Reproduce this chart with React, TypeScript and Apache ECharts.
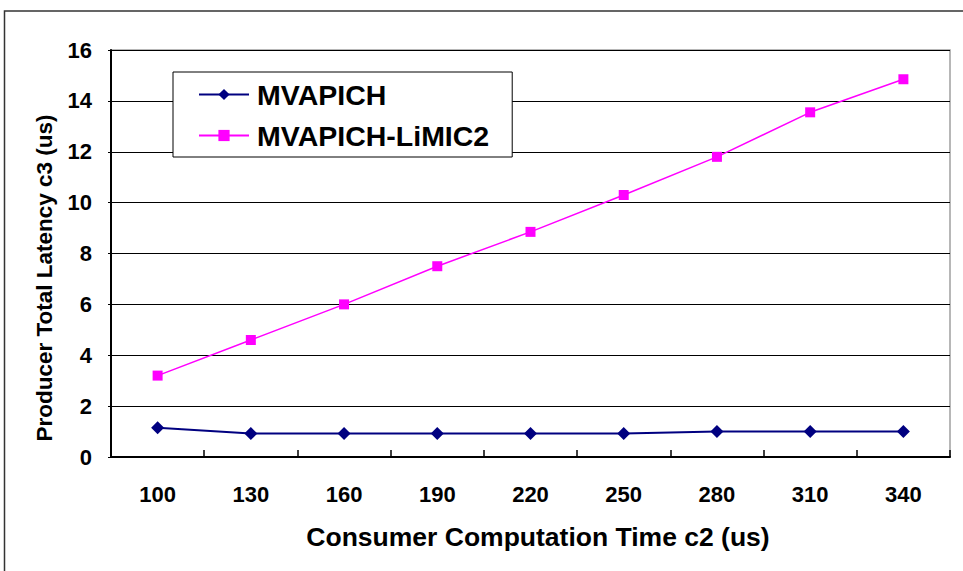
import React, { useEffect, useRef } from "react";
import * as echarts from "echarts";

const categories = ["100", "130", "160", "190", "220", "250", "280", "310", "340"];
const mvapich = [1.15, 0.92, 0.92, 0.92, 0.92, 0.92, 1.0, 1.0, 1.0];
const limic2 = [3.2, 4.6, 6.0, 7.5, 8.85, 10.3, 11.8, 13.55, 14.85];
const seriesNames = ["MVAPICH", "MVAPICH-LiMIC2"];
const xTitle = "Consumer Computation Time c2 (us)";
const yTitle = "Producer Total Latency c3 (us)";

const FONT = '"Liberation Sans", Arial, sans-serif';

export default function App() {
  const ref = useRef<HTMLDivElement>(null);
  useEffect(() => {
    if (!ref.current) return;
    const chart = echarts.init(ref.current, null, { renderer: "svg" });
    chart.setOption({
      animation: false,
      backgroundColor: "#ffffff",
      grid: {
        left: 111,
        top: 50,
        right: 13,
        bottom: 114,
        show: true,
        borderColor: "#a0a0a0",
        borderWidth: 1.5,
        backgroundColor: "transparent",
      },
      legend: {
        orient: "vertical",
        left: 173,
        top: 72,
        itemWidth: 50,
        itemHeight: 14,
        itemGap: 12,
        padding: [8, 23, 7, 25],
        z: 10,
        backgroundColor: "#ffffff",
        borderColor: "#000000",
        borderWidth: 1,
        textStyle: { fontFamily: FONT, fontWeight: "bold", fontSize: 28.5, color: "#000", padding: [0, 0, 0, 3] },
        data: seriesNames,
      },
      xAxis: {
        type: "category",
        data: categories,
        boundaryGap: true,
        name: xTitle,
        nameLocation: "middle",
        nameGap: 66,
        nameTextStyle: { fontFamily: FONT, fontWeight: "bold", fontSize: 26.5, color: "#000", padding: [0, 0, 0, 15] },
        axisLine: { lineStyle: { color: "#000", width: 2 } },
        axisTick: { show: true, inside: true, length: 7, lineStyle: { color: "#000", width: 1.5 } },
        axisLabel: { margin: 26, fontFamily: FONT, fontWeight: "bold", fontSize: 22, color: "#000" },
        splitLine: { show: false },
      },
      yAxis: {
        type: "value",
        min: 0,
        max: 16,
        interval: 2,
        axisLine: { show: true, lineStyle: { color: "#000", width: 2 } },
        axisTick: { show: true, length: 3, lineStyle: { color: "#000" } },
        axisLabel: { margin: 19, fontFamily: FONT, fontWeight: "bold", fontSize: 22, color: "#000" },
        splitLine: { show: true, lineStyle: { color: "#000", width: 1 } },
      },
      graphic: [
        {
          type: "rect",
          shape: { x: 4.5, y: 11, width: 1000, height: 1000 },
          style: { fill: "none", stroke: "#333", lineWidth: 1.5 },
          silent: true,
        },
        {
          type: "text",
          x: 44,
          y: 278,
          rotation: Math.PI / 2,
          style: {
            text: yTitle,
            fontFamily: FONT,
            fontWeight: "bold",
            fontSize: 22.5,
            fill: "#000",
            align: "center",
            verticalAlign: "middle",
          },
        },
      ],
      series: [
        {
          name: seriesNames[0],
          type: "line",
          data: mvapich,
          symbol: "diamond",
          symbolSize: 13,
          color: "#000080",
          lineStyle: { color: "#000080", width: 2 },
          itemStyle: { color: "#000080" },
        },
        {
          name: seriesNames[1],
          type: "line",
          data: limic2,
          symbol: "rect",
          symbolSize: 10,
          color: "#ff00ff",
          lineStyle: { color: "#ff00ff", width: 1.5 },
          itemStyle: { color: "#ff00ff" },
        },
      ],
    });
    return () => chart.dispose();
  }, []);
  return (
    <div
      ref={ref}
      style={{ position: "fixed", left: 0, top: 0, width: 963, height: 571, background: "#fff" }}
    />
  );
}
